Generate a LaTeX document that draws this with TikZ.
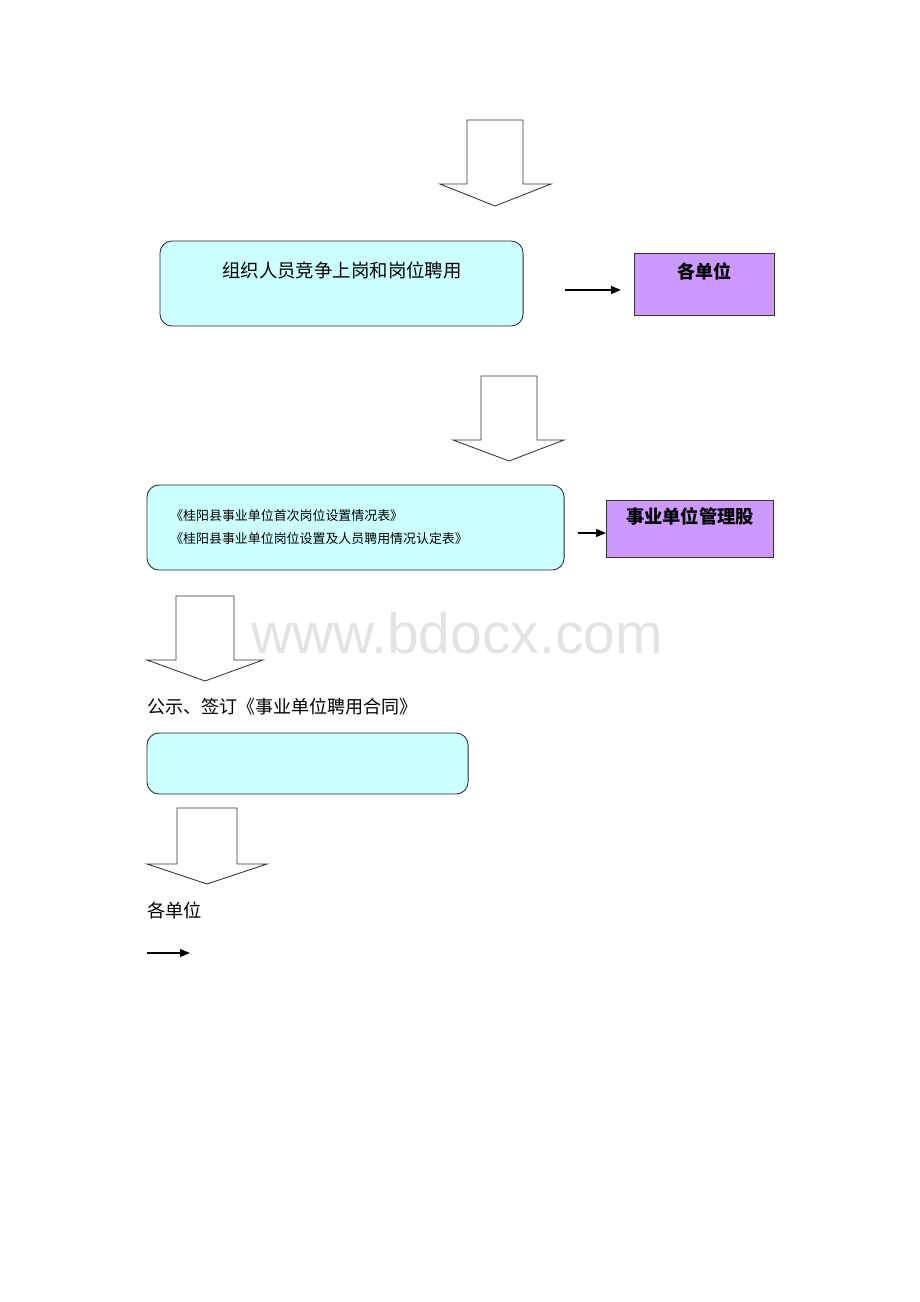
\documentclass[tikz,border=0pt]{standalone}
\usepackage{fontspec}
\setmainfont{Liberation Serif}
\newfontfamily\cjk{Noto Sans CJK SC}
\newfontfamily\wmfont{Liberation Sans}
\usepackage{xcolor}
\usetikzlibrary{arrows.meta}
\definecolor{boxcyan}{HTML}{CCFFFF}
\definecolor{boxpurple}{HTML}{CC99FF}

\tikzset{
  stepbox/.style={draw=black!85, fill=boxcyan, rounded corners=0.3cm, line width=0.6pt, inner sep=0pt, outer sep=0pt, anchor=north west},
  unitbox/.style={draw=black!80, fill=boxpurple, line width=0.6pt, inner sep=0pt, outer sep=0pt, anchor=north west},
  bigarrow/.style={draw=black!80, fill=white, line width=0.6pt, line join=miter},
  conn/.style={line width=1pt, -{Triangle[length=7pt,width=5.5pt]}},
}

\begin{document}
\begin{tikzpicture}[x=0.025cm, y=-0.025cm]
    \useasboundingbox (0,0) rectangle (920,1302);
    \cjk

    % block arrows
    \draw[bigarrow] (467,120) -- (523,120) -- (523,184) -- (551,184) -- (495,206) -- (440,184) -- (467,184) -- cycle;
    \draw[bigarrow] (481,376) -- (537,376) -- (537,440) -- (564,440) -- (509,461) -- (453,440) -- (481,440) -- cycle;
    \draw[bigarrow] (176,596) -- (234,596) -- (234,660) -- (263,660) -- (205,681) -- (147,660) -- (176,660) -- cycle;
    \draw[bigarrow] (177,808) -- (237,808) -- (237,864) -- (267,864) -- (207,884) -- (147,864) -- (177,864) -- cycle;

    % watermark
    \node[text=black!11, font=\wmfont\fontsize{40.5}{44}\selectfont] (wm) at (457,633) {www.bdocx.com};

    % steps
    \node[stepbox, minimum width=9.075cm, minimum height=2.125cm] (step1) at (160,241) {};
    \node[anchor=west, inner sep=0pt, font=\fontsize{13.1}{16}\selectfont] (step1text) at (222,270) {组织人员竞争上岗和岗位聘用};
    \node[unitbox, minimum width=3.5cm, minimum height=1.55cm] (unit1) at (634,253) {};
    \node[font=\bfseries\fontsize{12.8}{15}\selectfont] (unit1text) at (704,271) {各单位};

    \node[stepbox, minimum width=10.425cm, minimum height=2.125cm] (step2) at (147,485) {};
    \node[anchor=west, inner sep=0pt, align=left, font=\fontsize{9.2}{16.4}\selectfont] (step2text) at (170,527.5)
        {《桂阳县事业单位首次岗位设置情况表》\\《桂阳县事业单位岗位设置及人员聘用情况认定表》};
    \node[unitbox, minimum width=4.175cm, minimum height=1.425cm] (unit2) at (606,500) {};
    \node[font=\bfseries\fontsize{13}{15}\selectfont] (unit2text) at (690,516) {事业单位管理股};

    \node[anchor=west, inner sep=0pt, font=\fontsize{12.8}{15}\selectfont] (sign) at (147,707) {公示、签订《事业单位聘用合同》};
    \node[stepbox, minimum width=8.025cm, minimum height=1.525cm] (step3) at (147,733) {};

    \node[anchor=west, inner sep=0pt, font=\fontsize{13}{15}\selectfont] (unit3) at (147,911) {各单位};

    % small arrows
    \coordinate (a1) at (565,290);
    \coordinate (a1end) at (621,290);
    \draw[conn] (a1) -- (a1end);
    \coordinate (a2) at (578,533);
    \draw[conn] (a2) -- (a2 -| unit2.west);
    \coordinate (a3) at (147,953);
    \coordinate (a3end) at (190,953);
    \draw[conn] (a3) -- (a3end);
\end{tikzpicture}
\end{document}
